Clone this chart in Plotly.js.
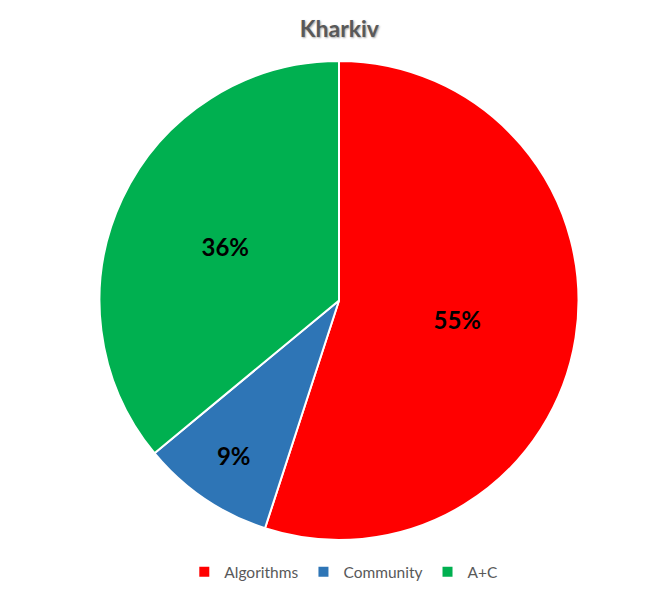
<!DOCTYPE html>
<html>
<head>
<meta charset="utf-8">
<script src="https://cdn.plot.ly/plotly-3.0.1.min.js"></script>
<style>html,body{margin:0;padding:0;background:#fff;}</style>
</head>
<body>
<div id="chart" style="width:672px;height:600px;"></div>
<script>
// Share of entries by category, Kharkiv
const categories = ["Algorithms", "Community", "A+C"];
const shares = [55, 9, 36];
const colors = ["#FF0000", "#2E75B6", "#00B050"];

const trace = {
  type: "pie",
  labels: categories,
  values: shares,
  sort: false,
  direction: "clockwise",
  rotation: 0,
  marker: { colors: colors, line: { color: "#FFFFFF", width: 2 } },
  texttemplate: "%{value}%",
  textposition: "inside",
  insidetextorientation: "horizontal",
  textfont: { family: "Lato, 'Open Sans', sans-serif", size: 24, color: "#000000", weight: "bold" },
  hoverinfo: "label+percent"
};

const layout = {
  width: 672,
  height: 600,
  paper_bgcolor: "#FFFFFF",
  margin: { t: 61, b: 59, l: 99, r: 93 },
  title: {
    text: "Kharkiv",
    x: 0.505,
    xanchor: "center",
    y: 0.952,
    yanchor: "middle",
    font: { family: "Lato, 'Open Sans', sans-serif", size: 23, color: "#595959", weight: "bold", shadow: "1px 1px 2px rgba(0,0,0,0.35)" }
  },
  showlegend: true,
  legend: {
    orientation: "h",
    x: 0.51,
    xanchor: "center",
    y: -0.065,
    yanchor: "middle",
    font: { family: "Lato, 'Open Sans', sans-serif", size: 15.5, color: "#595959" },
    itemwidth: 30
  }
};

Plotly.newPlot("chart", [trace], layout, { displayModeBar: false, staticPlot: true });
</script>
</body>
</html>
